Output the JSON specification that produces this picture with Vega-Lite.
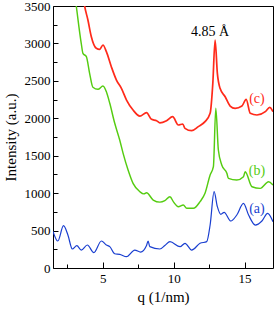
{
  "$schema": "https://vega.github.io/schema/vega-lite/v6.json",
  "width": 220,
  "height": 262,
  "autosize": {"type": "none"},
  "padding": {"left": 53, "top": 6, "right": 2, "bottom": 41},
  "background": "white",
  "config": {
    "view": {"stroke": "black", "strokeWidth": 1},
    "font": "Liberation Serif",
    "axis": {"grid": false, "domainColor": "black", "tickColor": "black", "labelColor": "black", "titleColor": "black", "labelFont": "Liberation Serif", "titleFont": "Liberation Serif", "labelFontSize": 13, "titleFontSize": 15, "titleFontWeight": "normal"}
  },
  "datasets": {
    "curves": [
      {"s": "a", "q": 1.5, "I": 490}, {"s": "a", "q": 1.84, "I": 361}, {"s": "a", "q": 2.24, "I": 565}, {"s": "a", "q": 2.55, "I": 441}, {"s": "a", "q": 2.86, "I": 254}, {"s": "a", "q": 3.18, "I": 298}, {"s": "a", "q": 3.49, "I": 240}, {"s": "a", "q": 3.92, "I": 307}, {"s": "a", "q": 4.38, "I": 205}, {"s": "a", "q": 4.91, "I": 361}, {"s": "a", "q": 5.26, "I": 307}, {"s": "a", "q": 5.5, "I": 285}, {"s": "a", "q": 5.85, "I": 190}, {"s": "a", "q": 6.2, "I": 183}, {"s": "a", "q": 6.68, "I": 151}, {"s": "a", "q": 7.26, "I": 240}, {"s": "a", "q": 7.67, "I": 212}, {"s": "a", "q": 8.09, "I": 300}, {"s": "a", "q": 8.2, "I": 361}, {"s": "a", "q": 8.32, "I": 285}, {"s": "a", "q": 9.03, "I": 254}, {"s": "a", "q": 9.38, "I": 300}, {"s": "a", "q": 9.74, "I": 352}, {"s": "a", "q": 10.45, "I": 285}, {"s": "a", "q": 10.8, "I": 330}, {"s": "a", "q": 11.27, "I": 240}, {"s": "a", "q": 11.86, "I": 330}, {"s": "a", "q": 12.33, "I": 352}, {"s": "a", "q": 12.57, "I": 574}, {"s": "a", "q": 12.85, "I": 1019}, {"s": "a", "q": 13.08, "I": 819}, {"s": "a", "q": 13.32, "I": 717}, {"s": "a", "q": 13.56, "I": 744}, {"s": "a", "q": 14.03, "I": 628}, {"s": "a", "q": 14.45, "I": 708}, {"s": "a", "q": 14.92, "I": 864}, {"s": "a", "q": 15.28, "I": 708}, {"s": "a", "q": 15.75, "I": 574}, {"s": "a", "q": 16.22, "I": 628}, {"s": "a", "q": 16.62, "I": 730}, {"s": "a", "q": 17.0, "I": 619},
      {"s": "b", "q": 2.8, "I": 4000}, {"s": "b", "q": 3.14, "I": 3500}, {"s": "b", "q": 3.49, "I": 3001}, {"s": "b", "q": 3.61, "I": 2868}, {"s": "b", "q": 3.85, "I": 2823}, {"s": "b", "q": 4.08, "I": 2600}, {"s": "b", "q": 4.31, "I": 2414}, {"s": "b", "q": 4.67, "I": 2387}, {"s": "b", "q": 5.02, "I": 2431}, {"s": "b", "q": 5.26, "I": 2355}, {"s": "b", "q": 5.5, "I": 2200}, {"s": "b", "q": 5.85, "I": 1933}, {"s": "b", "q": 6.2, "I": 1710}, {"s": "b", "q": 6.44, "I": 1532}, {"s": "b", "q": 6.79, "I": 1309}, {"s": "b", "q": 7.14, "I": 1131}, {"s": "b", "q": 7.62, "I": 1019}, {"s": "b", "q": 7.9, "I": 990}, {"s": "b", "q": 8.09, "I": 1006}, {"s": "b", "q": 8.56, "I": 908}, {"s": "b", "q": 9.03, "I": 880}, {"s": "b", "q": 9.38, "I": 900}, {"s": "b", "q": 9.74, "I": 953}, {"s": "b", "q": 10.0, "I": 880}, {"s": "b", "q": 10.33, "I": 819}, {"s": "b", "q": 10.68, "I": 841}, {"s": "b", "q": 10.92, "I": 797}, {"s": "b", "q": 11.39, "I": 797}, {"s": "b", "q": 11.86, "I": 886}, {"s": "b", "q": 12.21, "I": 998}, {"s": "b", "q": 12.57, "I": 1242}, {"s": "b", "q": 12.8, "I": 1353}, {"s": "b", "q": 12.97, "I": 2133}, {"s": "b", "q": 13.15, "I": 1576}, {"s": "b", "q": 13.39, "I": 1376}, {"s": "b", "q": 13.75, "I": 1265}, {"s": "b", "q": 13.86, "I": 1198}, {"s": "b", "q": 14.45, "I": 1176}, {"s": "b", "q": 14.92, "I": 1220}, {"s": "b", "q": 15.04, "I": 1287}, {"s": "b", "q": 15.52, "I": 1086}, {"s": "b", "q": 16.1, "I": 1064}, {"s": "b", "q": 16.69, "I": 1153}, {"s": "b", "q": 17.0, "I": 1109},
      {"s": "c", "q": 3.4, "I": 4000}, {"s": "c", "q": 3.73, "I": 3500}, {"s": "c", "q": 3.96, "I": 3313}, {"s": "c", "q": 4.2, "I": 3090}, {"s": "c", "q": 4.55, "I": 2935}, {"s": "c", "q": 4.79, "I": 2921}, {"s": "c", "q": 5.02, "I": 2979}, {"s": "c", "q": 5.26, "I": 2890}, {"s": "c", "q": 5.61, "I": 2689}, {"s": "c", "q": 5.97, "I": 2511}, {"s": "c", "q": 6.32, "I": 2400}, {"s": "c", "q": 6.68, "I": 2244}, {"s": "c", "q": 7.14, "I": 2110}, {"s": "c", "q": 7.62, "I": 2030}, {"s": "c", "q": 8.09, "I": 2075}, {"s": "c", "q": 8.44, "I": 1986}, {"s": "c", "q": 8.8, "I": 1968}, {"s": "c", "q": 9.03, "I": 1940}, {"s": "c", "q": 9.5, "I": 1968}, {"s": "c", "q": 9.93, "I": 2021}, {"s": "c", "q": 10.33, "I": 1910}, {"s": "c", "q": 10.64, "I": 1924}, {"s": "c", "q": 10.8, "I": 1866}, {"s": "c", "q": 11.27, "I": 1834}, {"s": "c", "q": 11.74, "I": 1888}, {"s": "c", "q": 12.21, "I": 1955}, {"s": "c", "q": 12.57, "I": 2066}, {"s": "c", "q": 12.76, "I": 2467}, {"s": "c", "q": 12.92, "I": 3046}, {"s": "c", "q": 13.08, "I": 2600}, {"s": "c", "q": 13.27, "I": 2400}, {"s": "c", "q": 13.63, "I": 2288}, {"s": "c", "q": 13.98, "I": 2164}, {"s": "c", "q": 14.33, "I": 2133}, {"s": "c", "q": 14.81, "I": 2164}, {"s": "c", "q": 15.11, "I": 2253}, {"s": "c", "q": 15.4, "I": 2066}, {"s": "c", "q": 15.87, "I": 2044}, {"s": "c", "q": 16.46, "I": 2088}, {"s": "c", "q": 16.77, "I": 2146}, {"s": "c", "q": 17.0, "I": 2088}
    ],
    "labels": [
      {"s": "a", "q": 15.87, "I": 784, "t": "(a)"},
      {"s": "b", "q": 15.87, "I": 1296, "t": "(b)"},
      {"s": "c", "q": 15.87, "I": 2257, "t": "(c)"},
      {"s": "k", "q": 12.57, "I": 3152, "t": "4.85 Å"}
    ]
  },
  "resolve": {"axis": {"x": "independent", "y": "independent"}},
  "layer": [
    {
      "data": {"name": "curves"},
      "mark": {"type": "line", "clip": true, "interpolate": "monotone"},
      "encoding": {
        "x": {"field": "q", "type": "quantitative", "scale": {"domain": [1.5, 17], "nice": false, "zero": false},
              "axis": {"orient": "bottom", "title": "q (1/nm)", "values": [5, 10, 15], "tickSize": -6, "labelPadding": 10, "titlePadding": 4, "domain": false}},
        "y": {"field": "I", "type": "quantitative", "scale": {"domain": [0, 3500], "nice": false},
              "axis": {"orient": "left", "title": "Intensity (a.u.)", "format": "d", "values": [0, 500, 1000, 1500, 2000, 2500, 3000, 3500], "tickSize": -5, "labelPadding": 8, "titlePadding": 6, "domain": false}},
        "color": {"field": "s", "type": "nominal", "scale": {"domain": ["a", "b", "c", "k"], "range": ["#1a3fd0", "#55cc11", "#ff2a1a", "#000000"]}, "legend": null},
        "strokeWidth": {"field": "s", "type": "nominal", "scale": {"domain": ["a", "b", "c"], "range": [1.2, 1.7, 1.7]}, "legend": null},
        "detail": {"field": "s"}
      }
    },
    {
      "data": {"name": "labels"},
      "mark": {"type": "text", "font": "Liberation Serif", "fontSize": 14, "align": "center", "baseline": "middle"},
      "encoding": {
        "x": {"field": "q", "type": "quantitative",
              "axis": {"orient": "bottom", "title": null, "labels": false, "values": [2.5, 7.5, 12.5], "tickSize": -4, "domain": false}},
        "y": {"field": "I", "type": "quantitative",
              "axis": {"orient": "left", "title": null, "labels": false, "values": [250, 750, 1250, 1750, 2250, 2750, 3250], "tickSize": -4, "domain": false}},
        "text": {"field": "t"},
        "color": {"field": "s", "type": "nominal", "legend": null}
      }
    }
  ]
}
